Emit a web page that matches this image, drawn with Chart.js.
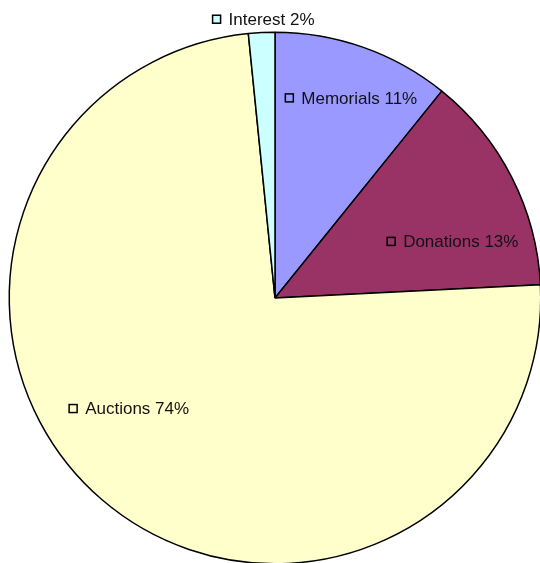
<!DOCTYPE html>
<html>
<head>
<meta charset="utf-8">
<style>
  html, body {
    margin: 0;
    padding: 0;
    background: #fff;
    overflow: hidden;
  }
  .chart-box {
    position: absolute;
    left: 0;
    top: 0;
    width: 560px;
    height: 620px;
  }
</style>
</head>
<body>
<div class="chart-box">
  <canvas id="pie" width="560" height="620"></canvas>
</div>
<script src="https://cdn.jsdelivr.net/npm/chart.js@4/dist/chart.umd.min.js"></script>
<script>
  // data (clockwise from 12 o'clock)
  var categories = ['Memorials', 'Donations', 'Auctions', 'Interest'];
  var shares = [10.8, 13.4, 74.2, 1.6];
  var sliceColors = ['#9999FF', '#993366', '#FFFFCC', '#CCFFFF'];

  // where each label group sits, relative to the pie centre, in radii
  var labelSpots = [[0.287, -0.753], [0.669, -0.213], [-0.549, 0.416], [-0.043, -1.049]];

  var labelPlugin = {
    id: 'sliceLabels',
    afterDatasetsDraw: function (chart) {
      var ctx = chart.ctx;
      var arcs = chart.getDatasetMeta(0).data;
      var total = shares.reduce(function (a, b) { return a + b; }, 0);
      ctx.save();
      ctx.font = '17px "Liberation Sans", Arial, sans-serif';
      ctx.textBaseline = 'middle';
      arcs.forEach(function (arc, i) {
        var txt = categories[i] + ' ' + Math.round(shares[i] / total * 100) + '%';
        var w = ctx.measureText(txt).width;
        var box = 8, gap = 8;
        var cx = arc.x + labelSpots[i][0] * arc.outerRadius;
        var cy = arc.y + labelSpots[i][1] * arc.outerRadius;
        var x0 = cx - (box + gap + w) / 2;
        ctx.fillStyle = sliceColors[i];
        ctx.fillRect(x0, cy - box / 2, box, box);
        ctx.lineWidth = 1.5;
        ctx.strokeStyle = '#000';
        ctx.strokeRect(x0, cy - box / 2, box, box);
        ctx.fillStyle = '#111';
        ctx.fillText(txt, x0 + box + gap, cy + 1);
      });
      ctx.restore();
    }
  };

  new Chart(document.getElementById('pie').getContext('2d'), {
    type: 'pie',
    data: {
      labels: categories,
      datasets: [{
        data: shares,
        backgroundColor: sliceColors,
        borderColor: '#000',
        borderWidth: 1.5
      }]
    },
    options: {
      responsive: false,
      animation: false,
      layout: { padding: { left: 8.5, top: 31.5, right: 18.5, bottom: 55.5 } },
      plugins: {
        legend: { display: false },
        tooltip: { enabled: false }
      }
    },
    plugins: [labelPlugin]
  });
</script>
</body>
</html>
